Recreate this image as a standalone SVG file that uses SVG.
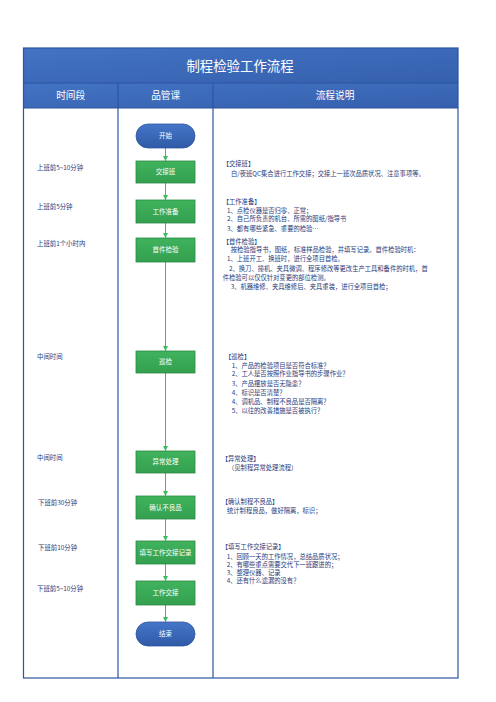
<svg xmlns="http://www.w3.org/2000/svg" width="496" height="702" viewBox="0 0 496 702">
<style>
text{font-family:"Noto Sans CJK SC","Noto Sans",sans-serif}
.hd{fill:#fff;font-size:9.7px;text-anchor:middle}
.tm{fill:#1f3a7a;font-size:6.4px}
.ds{fill:#1f3a7a;font-size:6.3px}
.nt{fill:#fff;font-size:6.5px;text-anchor:middle}
.box{fill:url(#gg);stroke:#2a8a45;stroke-width:0.8}
.term{fill:url(#bg);stroke:#2d559e;stroke-width:0.8}
.cn{stroke:#3dbb60;stroke-width:1;fill:none;marker-end:url(#ah)}
.grid{stroke:#2c55a0;stroke-width:1.2;fill:none}
</style>
<defs>
<linearGradient id="tg" x1="0" y1="0" x2="1" y2="1"><stop offset="0" stop-color="#4373c4"/><stop offset="1" stop-color="#3560ad"/></linearGradient>
<linearGradient id="bg" x1="0" y1="0" x2="0" y2="1"><stop offset="0" stop-color="#4676c9"/><stop offset="1" stop-color="#2f5aa6"/></linearGradient>
<linearGradient id="gg" x1="0" y1="0" x2="0" y2="1"><stop offset="0" stop-color="#40b25c"/><stop offset="1" stop-color="#34a050"/></linearGradient>
<marker id="ah" viewBox="0 0 10 10" refX="10" refY="5" markerWidth="5" markerHeight="5" orient="auto" markerUnits="userSpaceOnUse"><path d="M0,0L10,5L0,10z" fill="#3dbb60"/></marker>
</defs>
<g id="table">
<rect x="23.5" y="48" width="434.5" height="35" fill="url(#tg)"/>
<rect x="23.5" y="83" width="434.5" height="25" fill="url(#tg)"/>
<rect x="23.5" y="48" width="434.5" height="630" class="grid"/>
<line x1="23.5" y1="83" x2="458" y2="83" class="grid"/>
<line x1="23.5" y1="108" x2="458" y2="108" class="grid"/>
<line x1="118" y1="83" x2="118" y2="678" class="grid"/>
<line x1="213" y1="83" x2="213" y2="678" class="grid"/>
<text x="240" y="70.5" fill="#fff" font-size="13.4" text-anchor="middle">制程检验工作流程</text>
<text x="70.7" y="98.5" class="hd">时间段</text>
<text x="165.7" y="98.5" class="hd">品管课</text>
<text x="335" y="98.5" class="hd">流程说明</text>
</g>
<g id="time-labels">
<text x="37" y="169.5" class="tm">上班前5~10分钟</text>
<text x="37" y="208.5" class="tm">上班前5分钟</text>
<text x="37" y="245.5" class="tm">上班前1个小时内</text>
<text x="37" y="358.5" class="tm">中间时间</text>
<text x="37" y="459.5" class="tm">中间时间</text>
<text x="38" y="504.5" class="tm">下班前30分钟</text>
<text x="38" y="549.5" class="tm">下班前10分钟</text>
<text x="37" y="590.5" class="tm">下班前5~10分钟</text>
</g>
<g id="connectors">
<line x1="165.5" y1="148" x2="165.5" y2="161" class="cn"/>
<line x1="165.5" y1="183" x2="165.5" y2="200" class="cn"/>
<line x1="165.5" y1="223" x2="165.5" y2="238" class="cn"/>
<line x1="165.5" y1="262" x2="165.5" y2="351" class="cn"/>
<line x1="165.5" y1="373" x2="165.5" y2="451" class="cn"/>
<line x1="165.5" y1="473" x2="165.5" y2="496" class="cn"/>
<line x1="165.5" y1="519" x2="165.5" y2="541" class="cn"/>
<line x1="165.5" y1="564" x2="165.5" y2="581" class="cn"/>
<line x1="165.5" y1="605" x2="165.5" y2="622" class="cn"/>
</g>
<g id="n-start"><rect x="136" y="124" width="59" height="24" rx="12" class="term"/><text x="165.5" y="138.3" class="nt">开始</text></g>
<g id="n-jiaojieban"><rect x="136" y="161" width="59" height="22" class="box"/><text x="165.5" y="174.3" class="nt">交接班</text></g>
<g id="n-gongzuozhunbei"><rect x="136" y="200" width="59" height="23" class="box"/><text x="165.5" y="213.8" class="nt">工作准备</text></g>
<g id="n-shoujianjianyan"><rect x="136" y="238" width="59" height="24" class="box"/><text x="165.5" y="252.3" class="nt">首件检验</text></g>
<g id="n-xunjian"><rect x="136" y="351" width="59" height="22" class="box"/><text x="165.5" y="364.3" class="nt">巡检</text></g>
<g id="n-yichang"><rect x="136" y="451" width="59" height="22" class="box"/><text x="165.5" y="464.3" class="nt">异常处理</text></g>
<g id="n-queren"><rect x="136" y="496" width="59" height="23" class="box"/><text x="165.5" y="509.8" class="nt">确认不良品</text></g>
<g id="n-tianxie"><rect x="136" y="541" width="59" height="23" class="box"/><text x="165.5" y="554.8" class="nt">填写工作交接记录</text></g>
<g id="n-gongzuojiaojie"><rect x="136" y="581" width="59" height="24" class="box"/><text x="165.5" y="595.3" class="nt">工作交接</text></g>
<g id="n-end"><rect x="136" y="622" width="59" height="24" rx="12" class="term"/><text x="165.5" y="636.3" class="nt">结束</text></g>
<g id="descriptions">
<text x="222.7" y="166.3" class="ds">【交接班】</text>
<text x="231" y="176.3" class="ds">白/夜班QC集合进行工作交接；交接上一班次品质状况、注意事项等。</text>
<text x="222.7" y="204" class="ds">【工作准备】</text>
<text x="227" y="213" class="ds">1、点检仪器是否归零、正常；</text>
<text x="227" y="221.3" class="ds">2、自己所负责的机台、所需的图纸/指导书</text>
<text x="227" y="231.3" class="ds">3、都有哪些紧急、重要的检验…</text>
<text x="222.7" y="244" class="ds">【首件检验】</text>
<text x="230.7" y="252.3" class="ds">按检验指导书，图纸，标准样品检验，并填写记录。首件检验时机：</text>
<text x="227" y="261.3" class="ds">1、上班开工、换班时，进行全项目首检。</text>
<text x="229" y="270.6" class="ds">2、换刀、撞机、夹具微调、程序修改等更改生产工具和备件的时机，首</text>
<text x="222.7" y="279.6" class="ds">件检验可以仅仅针对变更的部位检测。</text>
<text x="230.7" y="289" class="ds">3、机器维修、夹具维修后、夹具重装，进行全项目首检；</text>
<text x="225" y="359" class="ds">【巡检】</text>
<text x="231.7" y="368.3" class="ds">1、产品的检验项目是否符合标准？</text>
<text x="231.7" y="376.3" class="ds">2、工人是否按照作业指导书的步骤作业？</text>
<text x="231.7" y="385.6" class="ds">3、产品摆放是否无隐患？</text>
<text x="231.7" y="394.6" class="ds">4、标识是否清楚？</text>
<text x="231.7" y="404" class="ds">4、调机品、制程不良品是否隔离？</text>
<text x="231.7" y="413.3" class="ds">5、以往的改善措施是否被执行？</text>
<text x="221.7" y="460.6" class="ds">【异常处理】</text>
<text x="228" y="469.6" class="ds">（见制程异常处理流程）</text>
<text x="221.7" y="504" class="ds">【确认制程不良品】</text>
<text x="227" y="513" class="ds">统计制程良品，做好隔离，标识；</text>
<text x="221.7" y="549" class="ds">【填写工作交接记录】</text>
<text x="226.7" y="559" class="ds">1、回顾一天的工作情况，总结品质状况；</text>
<text x="226.7" y="566.6" class="ds">2、有哪些重点需要交代下一班跟进的；</text>
<text x="226.7" y="574.6" class="ds">3、整理仪器、记录</text>
<text x="226.7" y="583" class="ds">4、还有什么遗漏的没有？</text>
</g>
</svg>
